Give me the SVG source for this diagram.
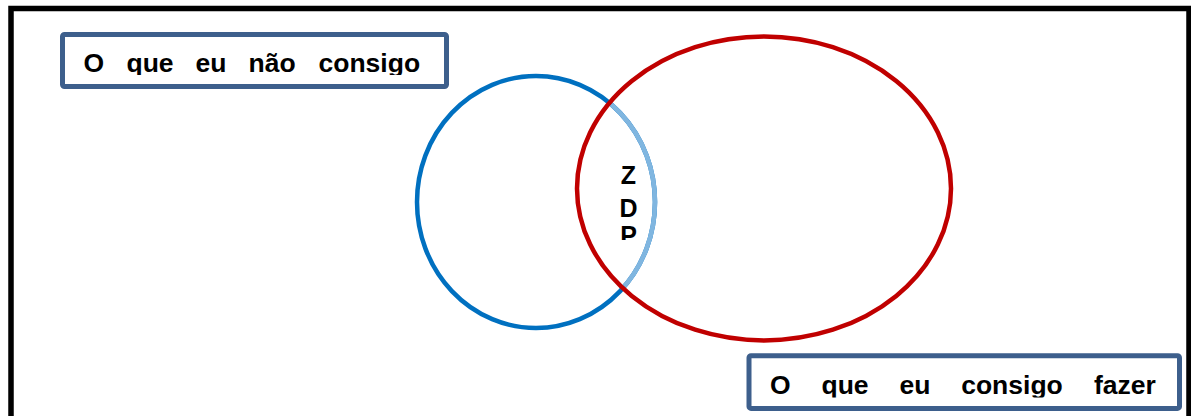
<svg xmlns="http://www.w3.org/2000/svg" width="1191" height="416" viewBox="0 0 1191 416">
<style>
.lbl{font-family:"Liberation Sans",Arial,sans-serif;font-weight:bold;font-size:26.5px;fill:#000}
.zdp{font-family:"Liberation Sans",Arial,sans-serif;font-weight:bold;font-size:25px;fill:#000;text-anchor:middle}
.box{fill:#fff;stroke:#3D5F8C;stroke-width:5}
</style>
<defs>
<clipPath id="clipL"><rect x="60" y="30" width="390" height="45"/></clipPath>
<clipPath id="clipR"><rect x="745" y="350" width="440" height="47.5"/></clipPath>
<clipPath id="clipZ"><rect x="600" y="150" width="60" height="90"/></clipPath>
<clipPath id="clipRed"><ellipse cx="764" cy="188.4" rx="185" ry="150"/></clipPath>
</defs>
<rect width="1191" height="416" fill="#fff"/>
<path id="frame" d="M11,420 V8.5 H1189 V420" fill="none" stroke="#000" stroke-width="5.5"/>
<g id="blue-circle">
<ellipse cx="536" cy="202" rx="119" ry="126" fill="none" stroke="#0070C0" stroke-width="4.5"/>
<ellipse cx="536" cy="202" rx="119" ry="126" fill="none" stroke="#80B6E0" stroke-width="4.6" clip-path="url(#clipRed)"/>
</g>
<g id="red-ellipse">
<ellipse cx="764" cy="188.4" rx="187" ry="152" fill="none" stroke="#C00000" stroke-width="4.5"/>
</g>
<g id="zdp" clip-path="url(#clipZ)">
<text class="zdp" x="628.5" y="183.5">Z</text>
<text class="zdp" x="628.5" y="216.5">D</text>
<text class="zdp" x="628.5" y="244">P</text>
</g>
<g id="box-nao">
<rect class="box" x="62.5" y="34.5" width="384" height="52" rx="2"/>
<g clip-path="url(#clipL)">
<text class="lbl" y="72"><tspan x="83.5">O</tspan><tspan x="126.5">que</tspan><tspan x="195.5">eu</tspan><tspan x="248.5">não</tspan><tspan x="318.5">consigo</tspan></text>
</g>
</g>
<g id="box-fazer">
<rect class="box" x="749" y="355.7" width="430.5" height="52.7" rx="2"/>
<g clip-path="url(#clipR)">
<text class="lbl" y="394.3"><tspan x="770">O</tspan><tspan x="821.5">que</tspan><tspan x="899.5">eu</tspan><tspan x="961.2">consigo</tspan><tspan x="1094">fazer</tspan></text>
</g>
</g>
<g id="connectors"/>
</svg>
